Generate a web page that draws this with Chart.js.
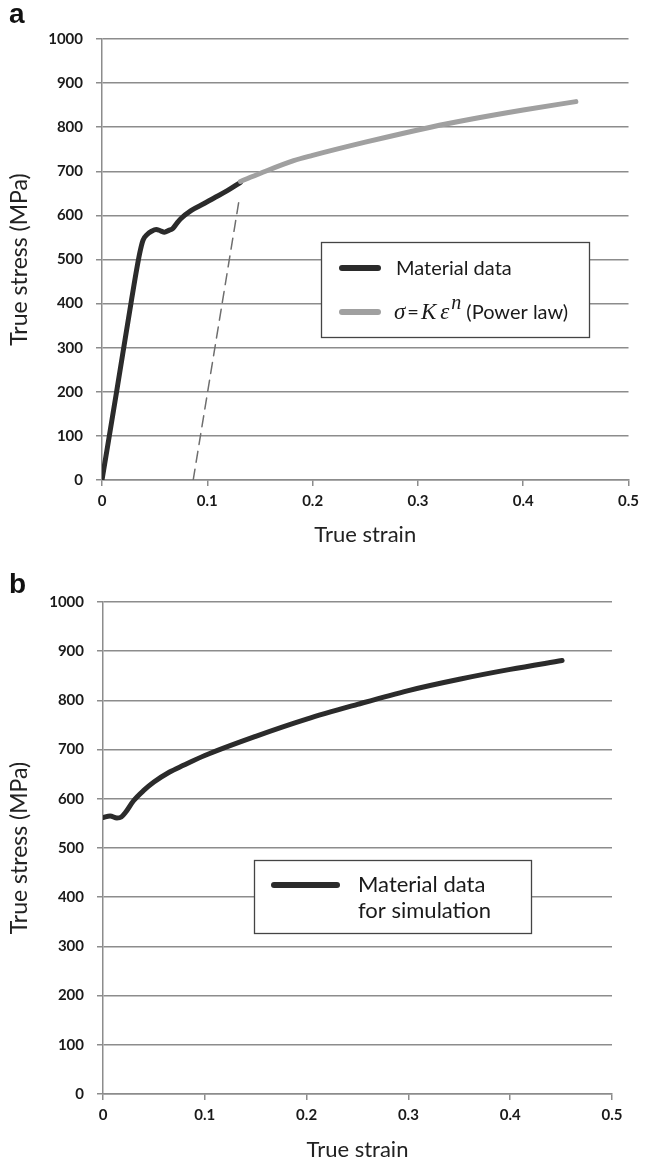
<!DOCTYPE html>
<html>
<head>
<meta charset="utf-8">
<script src="https://cdn.jsdelivr.net/npm/chart.js@4.4.0/dist/chart.umd.min.js"></script>
<style>
  body { margin: 0; background: #fff; width: 645px; height: 1169px; position: relative; overflow: hidden; }
  .panel { position: absolute; left: 0; width: 645px; }
  #wrapA { top: 0; height: 560px; }
  #wrapB { top: 560px; height: 609px; }
  .tag { position: absolute; left: 9px; font: bold 28px "Liberation Sans", Arial, sans-serif; color: #111; z-index: 2; }
</style>
</head>
<body>
<div class="panel" id="wrapA"><canvas id="chartA"></canvas></div>
<div class="panel" id="wrapB"><canvas id="chartB"></canvas></div>
<div class="tag" style="top:-2px">a</div>
<div class="tag" style="top:568px">b</div>
<script>
// tick labels
const xTicks = ['0', '0.1', '0.2', '0.3', '0.4', '0.5'];
const yTicks = ['0', '100', '200', '300', '400', '500', '600', '700', '800', '900', '1000'];

// panel a - measured material curve
const materialStrain = [0, 0.014, 0.028, 0.0358, 0.039, 0.043, 0.047, 0.0515, 0.0555, 0.0593, 0.0635, 0.0671, 0.071, 0.075, 0.0845, 0.097, 0.106, 0.119, 0.1315];
const materialStress = [0, 202, 408, 514, 544, 557, 564, 568, 565, 562, 566, 570, 582, 593, 611, 627, 639, 656, 675];

// panel a - power law extension
const powerStrain = [0.1315, 0.15, 0.182, 0.2, 0.25, 0.312, 0.35, 0.4, 0.45];
const powerStress = [677, 695, 724, 736, 766, 800, 818, 839, 858];

// panel a - dashed elastic unloading line
const unloadStrain = [0.0866, 0.1306];
const unloadStress = [0, 641];

// panel b - data for simulation
const simStrain = [0, 0.007, 0.0137, 0.018, 0.022, 0.03, 0.04, 0.05, 0.065, 0.079, 0.1, 0.15, 0.2, 0.25, 0.3, 0.35, 0.4, 0.451];
const simStress = [562, 565, 561, 563, 572, 596, 617, 634, 654, 668, 688, 727, 762, 792, 820, 843, 863, 881];

const DARK = '#2b2b2b';
const LIGHT = '#a0a0a0';
const GRID = '#8c8c8c';
const FONT = 'Lato';

function pts(xs, ys) {
  return xs.map((x, i) => ({ x: x, y: ys[i] }));
}

function lineSet(label, xs, ys, color, width, dash) {
  return {
    label: label,
    data: pts(xs, ys),
    borderColor: color,
    borderWidth: width,
    borderDash: dash || [],
    borderCapStyle: 'round',
    borderJoinStyle: 'round',
    cubicInterpolationMode: 'monotone',
    pointRadius: 0,
    showLine: true,
    fill: false
  };
}

function makeOptions(o) {
  return {
    responsive: true,
    maintainAspectRatio: false,
    animation: false,
    layout: { padding: { top: o.top, right: o.right, left: 0, bottom: 0 } },
    plugins: { legend: { display: false }, tooltip: { enabled: false } },
    scales: {
      x: {
        type: 'linear', min: 0, max: 0.5,
        afterFit: s => { s.height = o.xHeight; },
        grid: { drawOnChartArea: false, drawTicks: true, tickLength: 6, color: GRID, lineWidth: 1.5 },
        border: { display: true, color: GRID, width: 1.5 },
        ticks: { stepSize: 0.1, padding: 6, color: '#1a1a1a', font: { family: FONT, size: 15, weight: 'bold' },
                 maxRotation: 0, callback: (v, i) => xTicks[i] },
        title: { display: true, text: 'True strain', color: '#222', padding: { top: 0, bottom: o.xTitlePad },
                 font: { family: FONT, size: 22 } }
      },
      y: {
        type: 'linear', min: 0, max: 1000,
        afterFit: s => { s.width = o.yWidth; },
        grid: { color: GRID, lineWidth: 1.5, tickLength: 6 },
        border: { display: true, color: GRID, width: 1.5 },
        ticks: { stepSize: 100, padding: 13, color: '#1a1a1a', font: { family: FONT, size: 15, weight: 'bold' },
                 callback: (v, i) => yTicks[i] },
        title: { display: true, text: 'True stress (MPa)', color: '#222', padding: { top: o.yTitlePad, bottom: 0 },
                 font: { family: FONT, size: 23 } }
      }
    }
  };
}

function sample(c, x0, x1, y, color) {
  c.save();
  c.strokeStyle = color;
  c.lineWidth = 6;
  c.lineCap = 'round';
  c.beginPath();
  c.moveTo(x0, y);
  c.lineTo(x1, y);
  c.stroke();
  c.restore();
}

function box(c, x, y, w, h) {
  c.fillStyle = '#fff';
  c.fillRect(x, y, w, h);
  c.strokeStyle = '#444';
  c.lineWidth = 1.3;
  c.strokeRect(x + 0.5, y + 0.5, w, h);
}

const legendA = {
  id: 'legendA',
  afterDatasetsDraw(chart) {
    const c = chart.ctx;
    c.save();
    box(c, 321, 242, 268, 95);
    sample(c, 342, 378, 268, DARK);
    sample(c, 342, 378, 312, LIGHT);
    c.fillStyle = '#1a1a1a';
    c.textBaseline = 'alphabetic';
    c.font = '20px ' + FONT;
    c.fillText('Material data', 396, 275);
    // formula: sigma = K eps^n (Power law); [text, font, gap after, raise]
    const base = 319;
    const parts = [
      ['σ', 'italic 23px "Liberation Serif"', 2, 0],
      ['=', '20px ' + FONT, 2, 0],
      ['K', 'italic 23px "Liberation Serif"', 4, 0],
      ['ε', 'italic 23px "Liberation Serif"', 2, 0],
      ['n', 'italic 20px "Liberation Serif"', 5, -10],
      ['(Power law)', '20px ' + FONT, 0, 0]
    ];
    let x = 394;
    parts.forEach(p => {
      c.font = p[1];
      c.fillText(p[0], x, base + p[3]);
      x += c.measureText(p[0]).width + p[2];
    });
    c.restore();
  }
};

const legendB = {
  id: 'legendB',
  afterDatasetsDraw(chart) {
    const c = chart.ctx;
    c.save();
    box(c, 254, 300, 277, 73);
    sample(c, 274, 337, 325, DARK);
    c.fillStyle = '#1a1a1a';
    c.font = '22px ' + FONT;
    c.textBaseline = 'alphabetic';
    c.fillText('Material data', 358, 332);
    c.fillText('for simulation', 358, 358);
    c.restore();
  }
};

new Chart(document.getElementById('chartA'), {
  type: 'scatter',
  data: {
    datasets: [
      lineSet('unloading', unloadStrain, unloadStress, '#6e6e6e', 1.5, [11, 7]),
      lineSet('Power law', powerStrain, powerStress, LIGHT, 5),
      lineSet('Material data', materialStrain, materialStress, DARK, 5)
    ]
  },
  options: makeOptions({ top: 39, right: 12, xHeight: 80, yWidth: 102, xTitlePad: 12, yTitlePad: 6 }),
  plugins: [legendA]
});

new Chart(document.getElementById('chartB'), {
  type: 'scatter',
  data: {
    datasets: [
      lineSet('Material data for simulation', simStrain, simStress, DARK, 5)
    ]
  },
  options: makeOptions({ top: 42, right: 33, xHeight: 75, yWidth: 103, xTitlePad: 6, yTitlePad: 6 }),
  plugins: [legendB]
});
</script>
</body>
</html>
